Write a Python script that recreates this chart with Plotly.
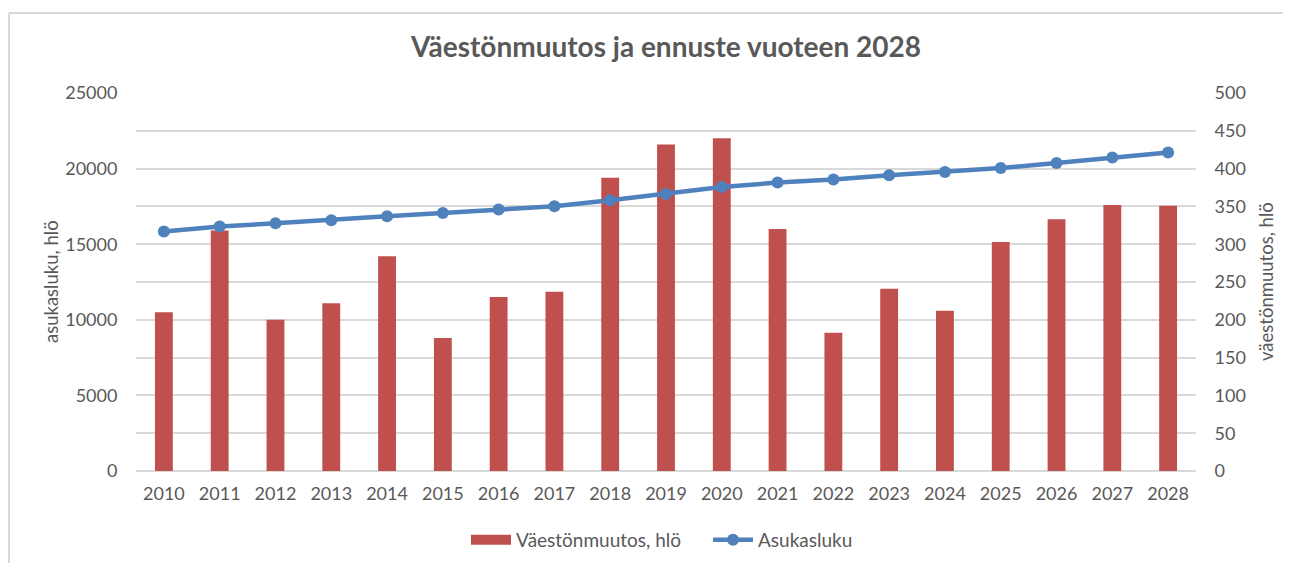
import plotly.graph_objects as go

years = [str(y) for y in range(2010, 2029)]
vaestonmuutos = [210, 318, 200, 222, 284, 176, 230, 237, 388, 432, 440, 320, 183, 241, 212, 303, 333, 352, 351]
asukasluku = [15833, 16164, 16382, 16581, 16845, 17063, 17288, 17507, 17904, 18320, 18783,
              19074, 19272, 19557, 19775, 20040, 20370, 20728, 21058]
left_ticks = [0, 5000, 10000, 15000, 20000, 25000]
right_ticks = [0, 50, 100, 150, 200, 250, 300, 350, 400, 450, 500]

FONT = "Lato"
GRAY = "#595959"
GRID = "#D9D9D9"
BAR_COLOR = "#C0504D"
LINE_COLOR = "#4F81BD"
TICK_SIZE = 18

W, H = 1291, 563
OFF = 8  # page body margin offset
# target plot area in screen pixels: x 136..1196, y 93..471
ML = 136 - OFF
MT = 93 - OFF
pw, ph = 1060, 378
MR = W - ML - pw
MB = H - MT - ph


def px_x(px):
    return (px - OFF - ML) / pw


def px_y(py):
    return (MT + ph - (py - OFF)) / ph


fig = go.Figure()
fig.add_trace(go.Bar(
    x=years, y=vaestonmuutos, name="Väestönmuutos, hlö",
    marker=dict(color=BAR_COLOR, line=dict(width=0)),
    yaxis="y", legendgroup="vm", showlegend=False,
))
# legend-only entry giving the wide rectangular swatch of the bar series
fig.add_trace(go.Scatter(
    x=[None], y=[None], name="Väestönmuutos, hlö", mode="lines",
    line=dict(color=BAR_COLOR, width=10), legendgroup="vm",
    yaxis="y", hoverinfo="skip",
))
fig.add_trace(go.Scatter(
    x=years, y=asukasluku, name="Asukasluku", mode="lines+markers",
    line=dict(color=LINE_COLOR, width=4.5),
    marker=dict(color=LINE_COLOR, size=12),
    yaxis="y2",
))

# outer border (left and top edges visible)
fig.add_shape(type="line", xref="paper", yref="paper", x0=px_x(9), x1=px_x(W + 20),
              y0=px_y(13), y1=px_y(13), line=dict(color=GRID, width=2))
fig.add_shape(type="line", xref="paper", yref="paper", x0=px_x(9), x1=px_x(9),
              y0=px_y(13), y1=px_y(H + 20), line=dict(color=GRID, width=2))

# axis titles
fig.add_annotation(text="asukasluku, hlö", xref="paper", yref="paper",
                   x=px_x(51), y=px_y(282), textangle=-90,
                   showarrow=False, xanchor="center", yanchor="middle",
                   font=dict(family=FONT, size=18.5, color=GRAY))
fig.add_annotation(text="väestönmuutos, hlö", xref="paper", yref="paper",
                   x=px_x(1266), y=px_y(282), textangle=-90,
                   showarrow=False, xanchor="center", yanchor="middle",
                   font=dict(family=FONT, size=18.5, color=GRAY))

fig.update_layout(
    width=W, height=H,
    margin=dict(l=ML, r=MR, t=MT, b=MB, autoexpand=False),
    paper_bgcolor="white", plot_bgcolor="white",
    font=dict(family=FONT, color=GRAY, size=TICK_SIZE),
    title=dict(text="<b>Väestönmuutos ja ennuste vuoteen 2028</b>",
               x=0.5, xref="paper", xanchor="center",
               y=1 - (47 - OFF) / H, yref="container", yanchor="middle",
               font=dict(family=FONT, size=28, color=GRAY)),
    bargap=0.68,
    xaxis=dict(type="category", range=[-0.5, len(years) - 0.5],
               showgrid=False, showline=False, zeroline=False,
               automargin=False,
               ticks="outside", ticklen=6, tickcolor="rgba(0,0,0,0)",
               tickfont=dict(size=TICK_SIZE, color=GRAY)),
    yaxis=dict(side="right", range=[0, 500], tickvals=right_ticks,
               automargin=False,
               showgrid=True, gridcolor=GRID, gridwidth=1.5,
               zeroline=True, zerolinecolor=GRID, zerolinewidth=1.5,
               showline=False, ticks="outside", ticklen=14, tickcolor="rgba(0,0,0,0)",
               tickfont=dict(size=TICK_SIZE, color=GRAY)),
    yaxis2=dict(side="left", overlaying="y", range=[0, 25000], tickvals=left_ticks,
                tickformat="d", automargin=False,
                showgrid=False, zeroline=False, showline=False,
                ticks="outside", ticklen=14, tickcolor="rgba(0,0,0,0)",
                tickfont=dict(size=TICK_SIZE, color=GRAY)),
    legend=dict(orientation="h", x=0.5 + 42 / pw, xanchor="center", xref="paper",
                y=1 - (540 - OFF) / H, yref="container", yanchor="middle",
                font=dict(size=19, color=GRAY), itemwidth=40,
                entrywidth=187, traceorder="normal"),
    showlegend=True,
)

fig.write_html("out.html")
